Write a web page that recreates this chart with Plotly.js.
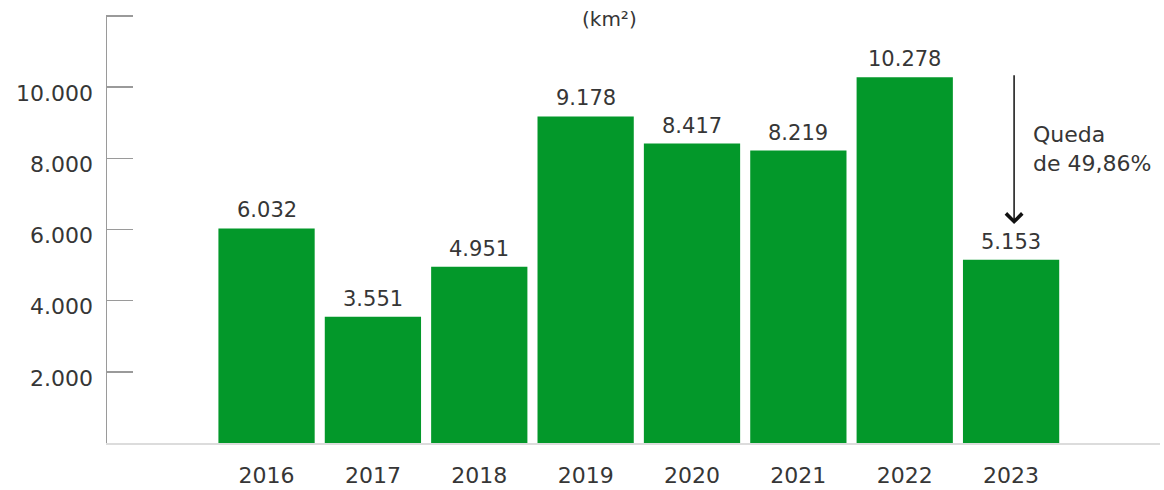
<!DOCTYPE html>
<html>
<head>
<meta charset="utf-8">
<script src="https://cdn.plot.ly/plotly-3.0.1.min.js"></script>
<style>html,body{margin:0;padding:0;background:#fff;}#chart{width:1164px;height:490px;}</style>
</head>
<body>
<div id="chart"></div>
<script>
var years = ['2016','2017','2018','2019','2020','2021','2022','2023'];
var areas = [6032, 3551, 4951, 9178, 8417, 8219, 10278, 5153];
var valueLabels = ['6.032','3.551','4.951','9.178','8.417','8.219','10.278','5.153'];
var yTickVals = [2000, 4000, 6000, 8000, 10000, 12000];
var yTickText = ['2.000','4.000','6.000','8.000','10.000',''];
var unitLabel = '(km²)';
var dropText = 'Queda<br>de 49,86%';

var FONT = '"DejaVu Sans", Lato, sans-serif';
var TXT = '#363636';

var trace = {
  type: 'bar',
  x: years,
  y: areas,
  marker: {color: '#03982a', line: {width: 0}},
  hoverinfo: 'skip'
};

var annotations = years.map(function(yr, i){
  return {x: i, y: areas[i], xref: 'x', yref: 'y', text: valueLabels[i],
    showarrow: false, yanchor: 'bottom', yshift: 4,
    font: {family: FONT, size: 21, color: TXT}};
});
annotations.push({x: 0.5, y: 1, xref: 'paper', yref: 'paper', text: unitLabel,
  showarrow: false, xanchor: 'center', yanchor: 'bottom', yshift: -18, xshift: -24,
  font: {family: FONT, size: 20, color: TXT}});
// drop arrow from 2022 level to 2023 level
annotations.push({x: 7, y: areas[7] + 1000, xref: 'x', yref: 'y',
  ax: 7, ay: areas[6] + 100, axref: 'x', ayref: 'y',
  showarrow: true, arrowhead: 4, arrowsize: 2.1, arrowwidth: 1.5, arrowcolor: '#111',
  xshift: 3, text: ''});
annotations.push({x: 7, y: (areas[6] + areas[7]) / 2 + 550, xref: 'x', yref: 'y',
  text: dropText, showarrow: false, xanchor: 'left', align: 'left', xshift: 20,
  font: {family: FONT, size: 22, color: TXT}});

var layout = {
  width: 1164, height: 490,
  margin: {l: 107, r: 4, t: 15, b: 47},
  paper_bgcolor: '#fff', plot_bgcolor: '#fff',
  showlegend: false,
  bargap: 0.095,
  font: {family: FONT, color: TXT},
  xaxis: {
    type: 'category', range: [-1.5, 8.4],
    showline: true, linecolor: '#dcdcdc', linewidth: 1.5,
    showgrid: false, zeroline: false, ticks: '',
    tickfont: {family: FONT, size: 22, color: TXT},
    ticklabelstandoff: 12
  },
  yaxis: {
    range: [0, 12030],
    showline: true, linecolor: '#9a9a9a', linewidth: 1.5,
    showgrid: false, zeroline: false,
    ticks: 'inside', ticklen: 26, tickwidth: 1.5, tickcolor: '#9a9a9a',
    tickvals: yTickVals, ticktext: yTickText,
    tickfont: {family: FONT, size: 22, color: TXT},
    ticklabelstandoff: 8, ticklabelshift: 6
  },
  annotations: annotations
};

Plotly.newPlot('chart', [trace], layout, {staticPlot: true, displayModeBar: false});
</script>
</body>
</html>
